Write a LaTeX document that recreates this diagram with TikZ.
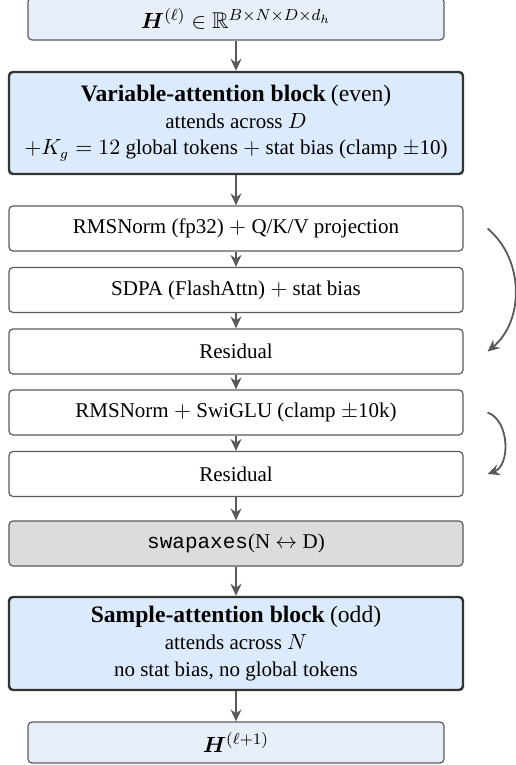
\documentclass[tikz,border=0pt]{standalone}
\usepackage{amsmath,amssymb,bm}
\usepackage{fontspec}
\setmainfont{Liberation Serif}
\setmonofont{Liberation Mono}
\usetikzlibrary{arrows.meta}
\definecolor{edgegray}{HTML}{5A5A5A}
\definecolor{blockedge}{HTML}{333333}
\definecolor{blockfill}{HTML}{DCEBFC}
\definecolor{iofill}{HTML}{E7EEF7}
\definecolor{opfill}{HTML}{DCDCDC}
\newcommand{\blocktitle}[1]{{\fontsize{11.8}{13.3}\selectfont\textbf{#1}}}
\begin{document}
\begin{tikzpicture}[x=0.5pt,y=-0.5pt,
  box/.style={draw=edgegray, line width=0.6pt, rounded corners=2pt, fill=white,
    minimum width=227pt, minimum height=22.5pt, inner sep=0pt,
    font=\fontsize{10.5}{13.3}\selectfont, align=center},
  block/.style={box, draw=blockedge, line width=1.2pt, fill=blockfill},
  iobox/.style={box, fill=iofill, minimum width=208pt, minimum height=20.5pt,
    font=\fontsize{11.4}{13.3}\selectfont},
  opbox/.style={box, fill=opfill},
  flow/.style={draw=edgegray, line width=0.9pt,
    -{Stealth[length=6pt,width=5.5pt,inset=2pt]}},
]
\useasboundingbox (0,0) rectangle (515,765);

% main pipeline
\node[iobox, minimum height=21pt] (hin) at (236,19)
  {$\boldsymbol{H}^{(\ell)} \in \mathbb{R}^{B\times N\times D\times d_h}$};
\node[block, minimum height=51pt] (var) at (236,123)
  {\blocktitle{Variable-attention block} {\fontsize{11.8}{13.3}\selectfont(even)}\\
   attends across $D$\\
   $+K_g=12$ global tokens $+$ stat bias (clamp $\pm$10)};
\node[box] (rms1) at (236,228.5) {RMSNorm (fp32) $+$ Q/K/V projection};
\node[box] (sdpa) at (236,290) {SDPA (FlashAttn) $+$ stat bias};
\node[box] (res1) at (236,351.5) {Residual};
\node[box] (ffn)  at (236,412.5) {RMSNorm $+$ SwiGLU (clamp $\pm$10k)};
\node[box] (res2) at (236,474) {Residual};
\node[opbox] (swap) at (236,543.5) {\texttt{swapaxes}(N $\leftrightarrow$ D)};
\node[block, minimum height=46.5pt] (samp) at (236,643.5)
  {\blocktitle{Sample-attention block} {\fontsize{11.8}{13.3}\selectfont(odd)}\\
   attends across $N$\\
   no stat bias, no global tokens};
\node[iobox] (hout) at (236,742.5) {$\boldsymbol{H}^{(\ell+1)}$};

\draw[flow] (hin) -- (var);
\draw[flow] (var) -- (rms1);
\draw[flow] (rms1) -- (sdpa);
\draw[flow] (sdpa) -- (res1);
\draw[flow] (res1) -- (ffn);
\draw[flow] (ffn) -- (res2);
\draw[flow] (res2) -- (swap);
\draw[flow] (swap) -- (samp);
\draw[flow] (samp) -- (hout);

% residual skip connections
\coordinate (s1a) at ([xshift=12pt]rms1.east);
\coordinate (s1b) at ([xshift=12pt]res1.east);
\coordinate (s2a) at ([xshift=12pt]ffn.east);
\coordinate (s2b) at ([xshift=12pt]res2.east);
\draw[flow] (s1a) to[bend left=50] (s1b);
\draw[flow] (s2a) to[bend left=70] (s2b);
\end{tikzpicture}
\end{document}
